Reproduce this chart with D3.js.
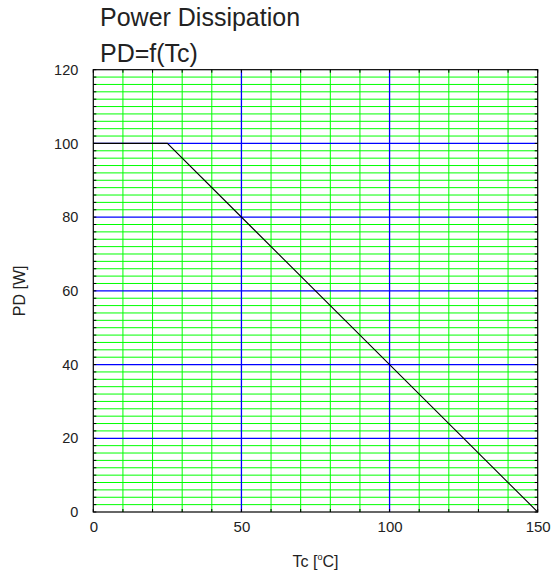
<!DOCTYPE html>
<html>
<head>
<meta charset="utf-8">
<script src="https://cdn.jsdelivr.net/npm/d3@7"></script>
<style>
  html, body { margin: 0; padding: 0; background: #fff; }
  svg { display: block; }
  text { font-family: "Liberation Sans", Arial, sans-serif; fill: #222; }
</style>
</head>
<body>
<svg id="chart" width="554" height="578"></svg>
<script>
// ---- data ----
const tcValues = [0, 25, 150];        // Tc [°C]
const pdValues = [100, 100, 0];       // PD [W]
const xTickLabels = [0, 50, 100, 150];
const yTickLabels = [0, 20, 40, 60, 80, 100, 120];
const xMinorTicks = d3.range(0, 151, 10);
const yMinorTicks = d3.range(0, 121, 2);
const xMajorGrid = [50, 100];
const yMajorGrid = [20, 40, 60, 80, 100];
const titleLines = ["Power Dissipation", "PD=f(Tc)"];

// ---- layout ----
const L = 93.3, R = 537.7, T = 69.7, B = 512;

const svg = d3.select("#chart");
const x = d3.scaleLinear().domain([0, 150]).range([L, R]);
const y = d3.scaleLinear().domain([0, 120]).range([B, T]);

const grid = svg.append("g");

// minor green grid
grid.selectAll("line.ymin").data(yMinorTicks.filter(v => v > 0 && v < 120 && !yMajorGrid.includes(v)))
  .join("line").attr("class", "ymin")
  .attr("x1", L).attr("x2", R).attr("y1", d => y(d)).attr("y2", d => y(d))
  .attr("stroke", "#00ff00").attr("stroke-width", 1);
grid.selectAll("line.xmin").data(xMinorTicks.filter(v => v > 0 && v < 150 && !xMajorGrid.includes(v)))
  .join("line").attr("class", "xmin")
  .attr("y1", T).attr("y2", B).attr("x1", d => x(d)).attr("x2", d => x(d))
  .attr("stroke", "#00ff00").attr("stroke-width", 1);

// major blue grid
grid.selectAll("line.ymaj").data(yMajorGrid)
  .join("line").attr("class", "ymaj")
  .attr("x1", L).attr("x2", R).attr("y1", d => y(d)).attr("y2", d => y(d))
  .attr("stroke", "#0000ff").attr("stroke-width", 1.3);
grid.selectAll("line.xmaj").data(xMajorGrid)
  .join("line").attr("class", "xmaj")
  .attr("y1", T).attr("y2", B).attr("x1", d => x(d)).attr("x2", d => x(d))
  .attr("stroke", "#0000ff").attr("stroke-width", 1.3);

// data line
const line = d3.line().x((d, i) => x(tcValues[i])).y(d => y(d));
svg.append("path").datum(pdValues)
  .attr("d", line).attr("fill", "none")
  .attr("stroke", "#000").attr("stroke-width", 1.1);

// inward minor ticks on all sides
function tickAxis(axis, tr) {
  const g = svg.append("g").attr("transform", tr).call(axis);
  g.select(".domain").remove();
  g.selectAll(".tick text").remove();
  g.selectAll(".tick line").attr("stroke", "#000");
}
tickAxis(d3.axisBottom(x).tickValues(xMinorTicks).tickSize(-3).offset(0), `translate(0,${B})`);
tickAxis(d3.axisTop(x).tickValues(xMinorTicks).tickSize(-3).offset(0), `translate(0,${T})`);
tickAxis(d3.axisLeft(y).tickValues(yMinorTicks).tickSize(-3).offset(0), `translate(${L},0)`);
tickAxis(d3.axisRight(y).tickValues(yMinorTicks).tickSize(-3).offset(0), `translate(${R},0)`);

// border
svg.append("rect").attr("x", L).attr("y", T).attr("width", R - L).attr("height", B - T)
  .attr("fill", "none").attr("stroke", "#000").attr("stroke-width", 1.2);

// tick labels
const xLab = svg.append("g").attr("transform", `translate(0,${B})`)
  .call(d3.axisBottom(x).tickValues(xTickLabels).tickSize(0).tickPadding(9).tickFormat(d3.format("d")));
xLab.select(".domain").remove();
xLab.selectAll("text").attr("font-size", 15).attr("font-family", "Liberation Sans, Arial, sans-serif").attr("fill", "#222");

const yLab = svg.append("g").attr("transform", `translate(${L},0)`)
  .call(d3.axisLeft(y).tickValues(yTickLabels).tickSize(0).tickPadding(15).tickFormat(d3.format("d")));
yLab.select(".domain").remove();
yLab.selectAll("text").attr("font-size", 14.5).attr("font-family", "Liberation Sans, Arial, sans-serif").attr("fill", "#222");

// titles
svg.append("text").attr("x", 100).attr("y", 26).attr("font-size", 25).text(titleLines[0]);
svg.append("text").attr("x", 100).attr("y", 62).attr("font-size", 25).text(titleLines[1]);

// axis titles
const xt = svg.append("text").attr("x", (L + R) / 2).attr("y", 567)
  .attr("text-anchor", "middle").attr("font-size", 16);
xt.append("tspan").text("Tc [");
xt.append("tspan").attr("font-size", 9).attr("dy", -7).text("o");
xt.append("tspan").attr("dy", 7).text("C]");

svg.append("text").attr("transform", `translate(25,${(T + B) / 2}) rotate(-90)`)
  .attr("text-anchor", "middle").attr("font-size", 16).text("PD [W]");
</script>
</body>
</html>
